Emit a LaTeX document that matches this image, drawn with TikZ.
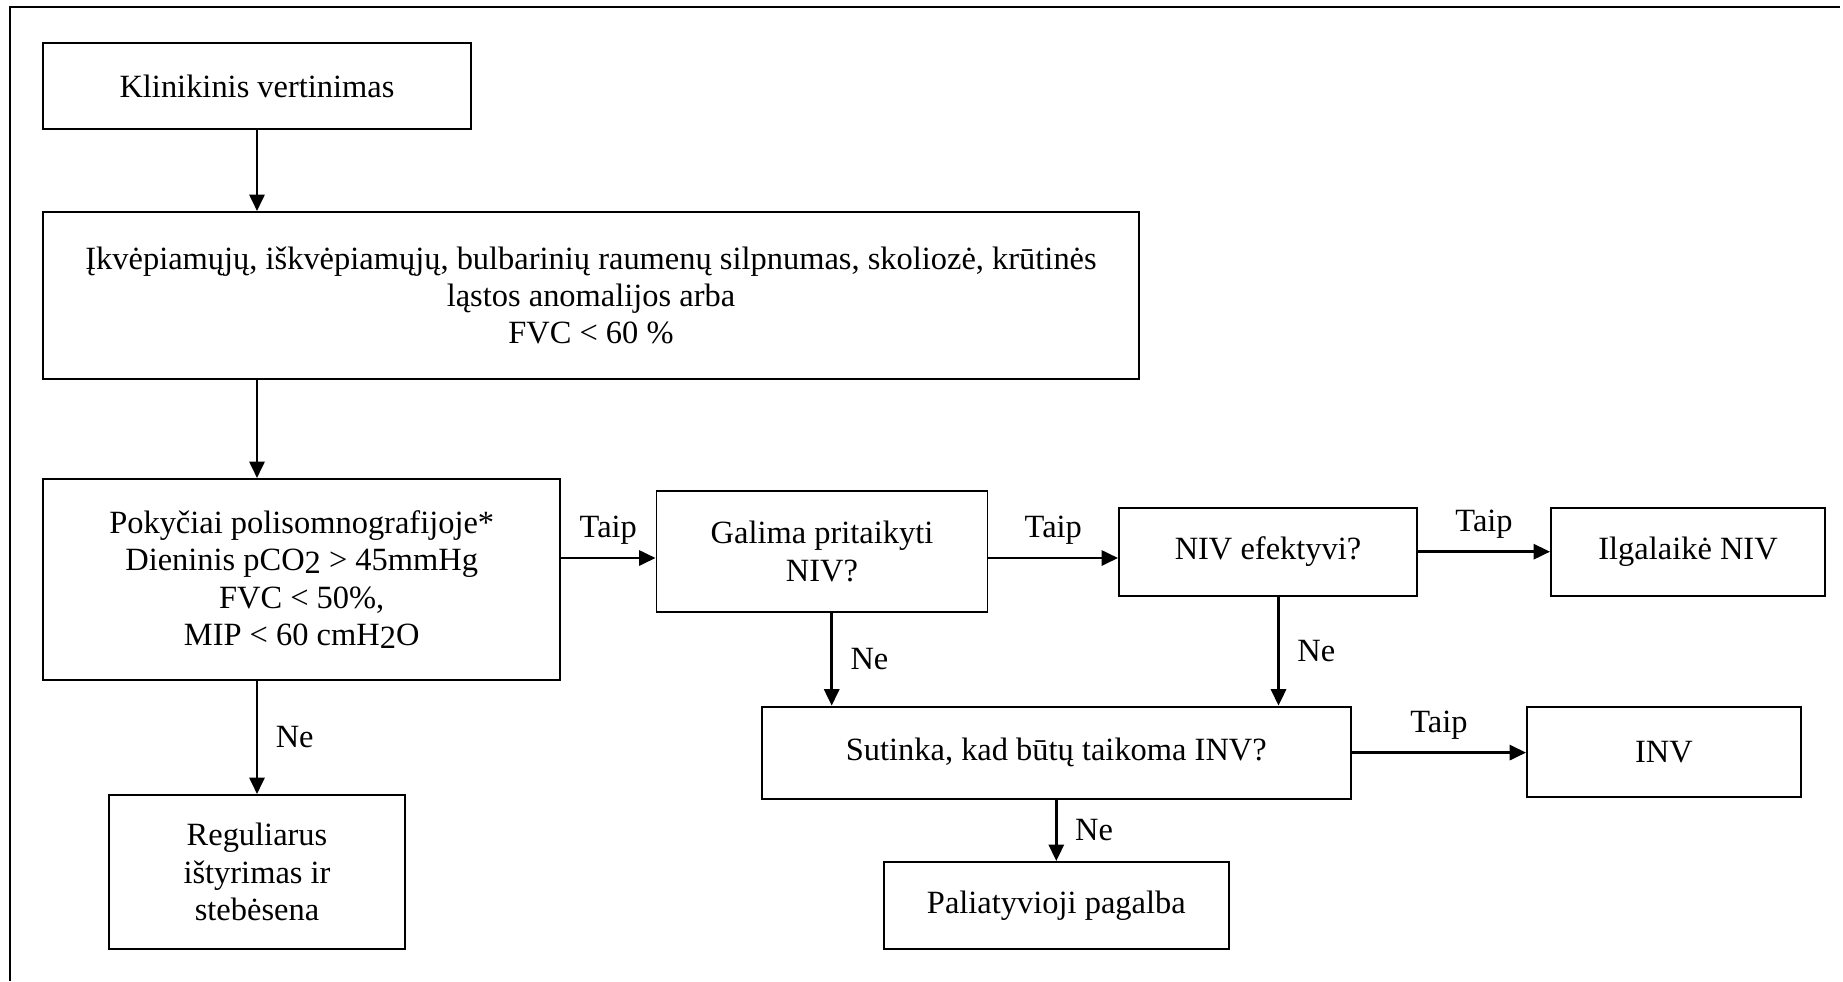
\documentclass[tikz,border=0pt]{standalone}
\usepackage{fontspec}
\setmainfont{Liberation Serif}
\usetikzlibrary{arrows.meta,positioning}
\tikzset{font=\fontsize{11.8pt}{13.6pt}\selectfont}
\tikzset{box/.style={draw, line width=0.7pt, align=center, inner sep=2pt}}
\tikzset{arr/.style={-{Triangle[length=6pt,width=5.5pt]}, line width=1pt}}

\begin{document}
\begin{tikzpicture}[x=0.3636pt,y=-0.3636pt]
  \def\pu{0.3636pt}
  \useasboundingbox (0,0) rectangle (1843,981);
  \draw[line width=0.8pt] (1840,7) -- (10,7) -- (10,981);

  \node[box, minimum width=427.5*\pu, minimum height=86*\pu] (klin) at (257,86)
  {Klinikinis vertinimas};
  \node[box, minimum width=1095.5*\pu, minimum height=167*\pu] (salyg) at (591,295.5)
  {Įkvėpiamųjų, iškvėpiamųjų, bulbarinių raumenų silpnumas, skoliozė, krūtinės\\
    ląstos anomalijos arba\\ FVC < 60 \%};
  \node[box, minimum width=516.7*\pu, minimum height=201*\pu] (poky) at (301.7,579.5)
  {Pokyčiai polisomnografijoje*\\ Dieninis pCO\raisebox{-0.2ex}{2} > 45mmHg\\
    FVC < 50\%,\\ MIP < 60 cmH\raisebox{-0.2ex}{2}O};
  \node[box, minimum width=296*\pu, minimum height=154*\pu] (regul) at (257,872)
  {Reguliarus\\ ištyrimas ir\\ stebėsena};
  \node[box, minimum width=331*\pu, minimum height=121.6*\pu] (galima) at (822,551.5)
  {Galima pritaikyti\\ NIV?};
  \node[box, minimum width=298*\pu, minimum height=88*\pu] (nivef) at (1268,551.7)
  {NIV efektyvi?};
  \node[box, minimum width=274*\pu, minimum height=88*\pu] (ilgal) at (1688,551.7)
  {Ilgalaikė NIV};
  \node[box, minimum width=589*\pu, minimum height=92*\pu] (sutin) at (1056.3,752.6)
  {Sutinka, kad būtų taikoma INV?};
  \node[box, minimum width=274*\pu, minimum height=90*\pu] (inv) at (1664,751.8)
  {INV};
  \node[box, minimum width=344.6*\pu, minimum height=87*\pu] (palia) at (1056.3,905.5)
  {Paliatyvioji pagalba};

  \draw[arr] (klin) -- (klin |- salyg.north);
  \draw[arr] (klin |- salyg.south) -- (klin |- poky.north);
  \draw[arr] (poky.south -| regul) -- (regul) node[midway, right=3pt] (ne1) {Ne};

  \draw[arr] ([yshift=21.5*\pu]poky.east) -- ([yshift=21.5*\pu]poky.east -| galima.west)
  node[midway, above=1pt] (taip1) {Taip};
  \draw[arr] ([yshift=-6.5*\pu]galima.east) -- ([yshift=-6.5*\pu]galima.east -| nivef.west)
  node[midway, above=1pt] (taip2) {Taip};
  \draw[arr] (nivef) -- (ilgal) node[midway, above=1pt] (taip3) {Taip};

  \draw[arr] ([xshift=9.7*\pu]galima.south) -- ([xshift=9.7*\pu]galima.south |- sutin.north)
  node[midway, right=3pt] (ne2) {Ne};
  \draw[arr] ([xshift=10.5*\pu]nivef.south) -- ([xshift=10.5*\pu]nivef.south |- sutin.north)
  node[midway, right=3pt] (ne3) {Ne};

  \draw[arr] (sutin.east) -- (sutin.east -| inv.west) node[midway, above=1pt] (taip4) {Taip};
  \draw[arr] (sutin) -- (palia) node[midway, right=3pt] (ne4) {Ne};

\end{tikzpicture}
\end{document}
